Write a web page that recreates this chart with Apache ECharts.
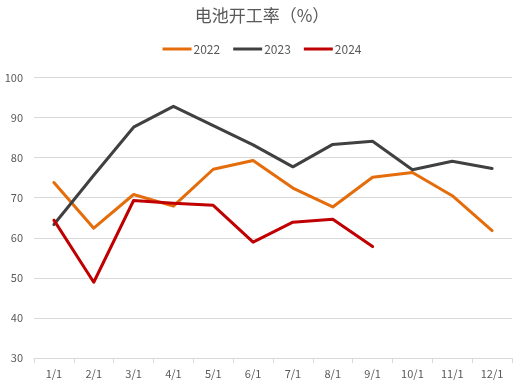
<!DOCTYPE html>
<html><head><meta charset="utf-8">
<script src="https://cdn.jsdelivr.net/npm/echarts@6/dist/echarts.min.js"></script>
<style>html,body{margin:0;padding:0;background:#fff}#c{width:524px;height:387px}</style>
</head><body><div id="c"></div>
<script>
var categories = ['1/1','2/1','3/1','4/1','5/1','6/1','7/1','8/1','9/1','10/1','11/1','12/1'];
var s2022 = [73.8, 62.4, 70.8, 67.9, 77.1, 79.3, 72.4, 67.7, 75.1, 76.3, 70.5, 61.8];
var s2023 = [63.3, 75.6, 87.6, 92.8, 88.0, 83.2, 77.7, 83.3, 84.1, 77.0, 79.1, 77.3];
var s2024 = [64.4, 48.9, 69.3, 68.6, 68.1, 58.9, 63.9, 64.6, 57.8];
var yTicks = [30, 40, 50, 60, 70, 80, 90, 100];
var chart = echarts.init(document.getElementById('c'));
var font = '"Microsoft YaHei","Noto Sans CJK SC",sans-serif';
function line(name, data, color) {
  return {name: name, type: 'line', data: data, symbol: 'none',
    lineStyle: {color: color, width: 3, cap: 'round', join: 'round'}, itemStyle: {color: color}};
}
chart.setOption({
  animation: false,
  title: {text: '电池开工率（%）', left: 'center', top: 2,
    textStyle: {color: '#595959', fontSize: 17, fontWeight: 'normal', fontFamily: font}},
  legend: {top: 38, left: 'center', itemWidth: 29, itemHeight: 3, itemGap: 13, icon: 'rect',
    textStyle: {color: '#595959', fontSize: 12, fontFamily: font, padding: [0,0,0,-3]},
    data: ['2022','2023','2024']},
  grid: {left: 34, right: 12, top: 77.5, bottom: 29},
  xAxis: {type: 'category', data: categories, boundaryGap: true,
    axisLine: {lineStyle: {color: '#d9d9d9'}},
    axisTick: {show: true, length: 5, lineStyle: {color: '#d9d9d9'}},
    axisLabel: {color: '#595959', fontSize: 11, margin: 10, fontFamily: font}},
  yAxis: {type: 'value', min: yTicks[0], max: yTicks[yTicks.length-1], interval: 10,
    axisLine: {show: false}, axisTick: {show: false},
    splitLine: {lineStyle: {color: '#d9d9d9'}},
    axisLabel: {color: '#595959', fontSize: 11, margin: 11, fontFamily: font}},
  series: [line('2022', s2022, '#E46C0A'), line('2023', s2023, '#404040'), line('2024', s2024, '#C00000')]
});
</script></body></html>
